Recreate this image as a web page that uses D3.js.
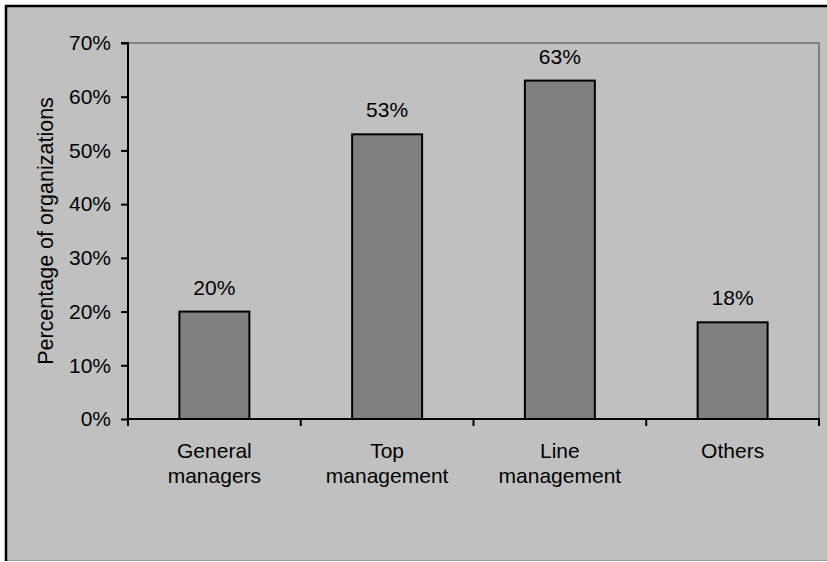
<!DOCTYPE html>
<html><head><meta charset="utf-8">
<script src="https://cdn.jsdelivr.net/npm/d3@7"></script>
<style>body{margin:0;background:#fff}svg{display:block;font-family:Arial,"Liberation Sans",sans-serif}</style>
</head><body><svg id="c" width="827" height="562"></svg>
<script>
const categories = [["General","managers"],["Top","management"],["Line","management"],["Others"]];
const values = [20, 53, 63, 18];
const yTicks = [0,10,20,30,40,50,60,70];
const yTitle = "Percentage of organizations";

const svg = d3.select("#c");
// background
svg.append("rect").attr("x",6).attr("y",6).attr("width",830).attr("height",554).attr("fill","#c0c0c0");
svg.append("line").attr("x1",6).attr("x2",827).attr("y1",560.5).attr("y2",560.5).attr("stroke","#9a9a9a").attr("stroke-width",1);
svg.append("line").attr("x1",5).attr("x2",827).attr("y1",6).attr("y2",6).attr("stroke","#000").attr("stroke-width",2.5);
svg.append("line").attr("x1",6).attr("x2",6).attr("y1",5).attr("y2",561).attr("stroke","#000").attr("stroke-width",2.5);

const L=128, R=819, T=43, B=419;
const FS=21;
const x = d3.scaleBand().domain(d3.range(categories.length)).range([L,R]).paddingInner(0.595).paddingOuter(0.2975);
const y = d3.scaleLinear().domain([0,70]).range([B,T]);

// plot border (grey top/right)
svg.append("path").attr("d",`M${L},${T}H${R}V${B}`).attr("fill","none").attr("stroke","#808080").attr("stroke-width",2);

// bars
svg.selectAll("rect.bar").data(values).join("rect").attr("class","bar")
  .attr("x",(d,i)=>x(i)).attr("width",x.bandwidth())
  .attr("y",d=>y(d)).attr("height",d=>B-y(d))
  .attr("fill","#808080").attr("stroke","#000").attr("stroke-width",2);

// value labels
svg.selectAll("text.val").data(values).join("text").attr("class","val")
  .attr("x",(d,i)=>x(i)+x.bandwidth()/2).attr("y",d=>y(d)-17)
  .attr("text-anchor","middle").attr("font-size",FS).attr("fill","#000")
  .text(d=>d+"%");

// y axis
const yAxis = d3.axisLeft(y).tickValues(yTicks).tickFormat(d=>d+"%").tickSize(7).tickPadding(10);
const gy = svg.append("g").attr("transform",`translate(${L},0)`).call(yAxis);
gy.select(".domain").attr("stroke","#000").attr("stroke-width",2).attr("d",`M-7,${T}H0V${B}`);
gy.selectAll(".tick line").attr("stroke","#000").attr("stroke-width",2);
gy.selectAll(".tick text").attr("font-size",FS).attr("fill","#000").attr("font-family","Arial, 'Liberation Sans', sans-serif");

// x axis
const bounds = d3.range(categories.length+1).map(i=>L+(R-L)*i/categories.length);
svg.append("line").attr("x1",L-1).attr("x2",R+1).attr("y1",B).attr("y2",B).attr("stroke","#000").attr("stroke-width",2);
svg.selectAll("line.xt").data(bounds).join("line").attr("class","xt")
  .attr("x1",d=>d).attr("x2",d=>d).attr("y1",B).attr("y2",B+7).attr("stroke","#000").attr("stroke-width",2);

// category labels
const cl = svg.selectAll("text.cat").data(categories).join("text").attr("class","cat")
  .attr("x",(d,i)=>x(i)+x.bandwidth()/2).attr("y",458)
  .attr("text-anchor","middle").attr("font-size",FS).attr("fill","#000");
cl.selectAll("tspan").data((d,i)=>d.map(t=>({t,i}))).join("tspan")
  .attr("x",d=>x(d.i)+x.bandwidth()/2).attr("dy",(d,j)=>j===0?0:25).text(d=>d.t);

// y title
svg.append("text").attr("transform",`translate(53,${(T+B)/2}) rotate(-90)`)
  .attr("text-anchor","middle").attr("font-size",21.5).attr("fill","#000").text(yTitle);
</script></body></html>
